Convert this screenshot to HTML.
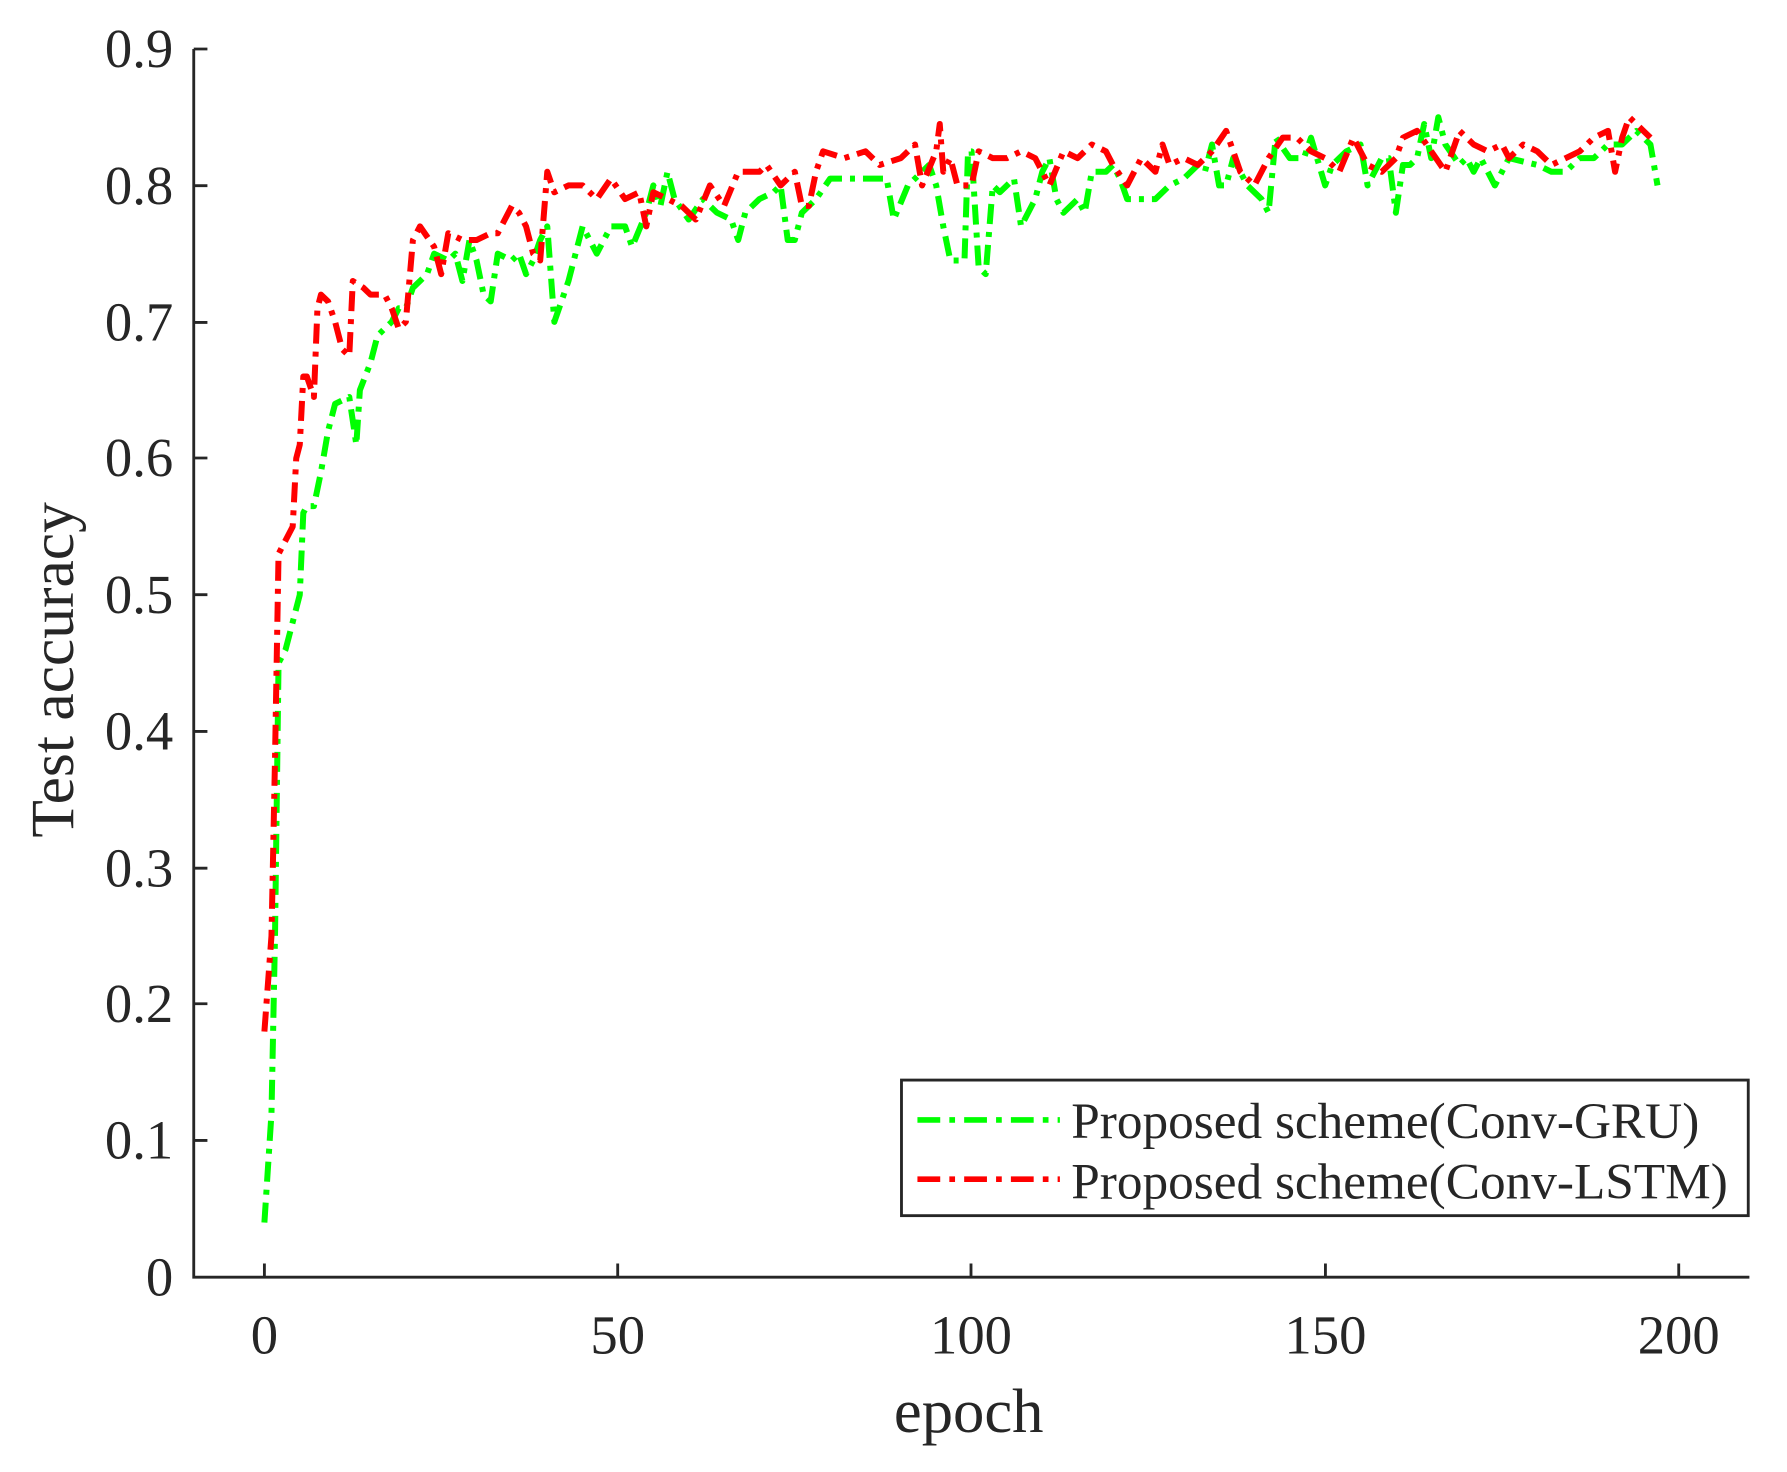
<!DOCTYPE html>
<html><head><meta charset="utf-8"><style>html,body{margin:0;padding:0;background:#fff}svg{display:block}</style></head>
<body>
<svg width="1787" height="1472" viewBox="0 0 1568 1292" preserveAspectRatio="none" xmlns="http://www.w3.org/2000/svg" font-family="Liberation Serif, serif" fill="#262626">
<rect width="1568" height="1292" fill="#fff"/>
<g stroke="#262626" stroke-width="2.5" fill="none">
<path d="M170,43 V1121 H1535"/>
<path d="M170,43h12M170,163h12M170,283h12M170,402h12M170,522h12M170,642h12M170,762h12M170,881h12M170,1001h12"/>
<path d="M232,1121v-12M542,1121v-12M852,1121v-12M1163,1121v-12M1473,1121v-12"/>
</g>
<g font-size="48" text-anchor="end">
<text x="152" y="59">0.9</text><text x="152" y="179">0.8</text><text x="152" y="299">0.7</text><text x="152" y="418">0.6</text><text x="152" y="538">0.5</text><text x="152" y="658">0.4</text><text x="152" y="778">0.3</text><text x="152" y="897">0.2</text><text x="152" y="1017">0.1</text><text x="152" y="1137">0</text>
</g>
<g font-size="48" text-anchor="middle">
<text x="232" y="1188">0</text><text x="542" y="1188">50</text><text x="852" y="1188">100</text><text x="1163" y="1188">150</text><text x="1473" y="1188">200</text>
<text x="850" y="1257" font-size="55">epoch</text>
<text transform="translate(64,588) rotate(-90)" font-size="54">Test accuracy</text>
</g>
<g transform="translate(232,1121) scale(6.205,-1197.8)" fill="none" stroke-linejoin="round">
<polyline vector-effect="non-scaling-stroke" stroke="#00ff00" stroke-width="6" stroke-dasharray="20 8 5 8" points="0,.04 1,.12 1.5,.25 2,.45 3,.46 4,.48 5,.5 5.5,.56 6,.565 7,.565 8,.59 9,.62 10,.64 12,.645 13,.61 13.5,.65 15,.67 16,.69 18,.70 19,.71 20,.71 21,.725 23,.735 24,.75 26,.745 27,.75 28,.73 29,.76 30,.745 31,.72 32,.715 33,.75 35,.745 36,.75 37,.735 38,.745 39,.76 40,.77 41,.70 43,.73 45,.77 47,.75 49,.77 51,.77 52,.755 54,.78 55,.80 56,.785 57,.81 58,.79 60,.775 62,.79 64,.78 66,.775 67,.76 68,.78 70,.79 72,.795 73,.80 74,.76 75,.76 76,.78 78,.79 80,.805 85,.805 88,.805 89,.775 91,.80 93,.81 94,.815 95,.80 96,.77 97,.745 99,.745 99.5,.825 100,.825 101,.74 102,.735 103,.80 104,.795 105,.80 106,.805 107,.77 109,.79 110,.81 111,.82 112,.79 113,.78 115,.79 116,.78 117,.81 119,.81 120,.815 121,.805 122,.79 124,.79 126,.79 128,.80 130,.805 132,.815 133,.81 134,.83 135,.80 136,.80 137,.82 139,.80 141,.79 142,.78 143,.835 145,.82 147,.82 148,.835 150,.80 151,.815 153,.825 155,.83 156,.80 157,.81 158,.82 159,.82 160,.78 161,.815 162,.815 163,.82 164,.845 165,.82 166,.85 167,.83 169,.815 170,.82 171,.81 172,.82 174,.80 176,.82 180,.815 182,.81 184,.81 186,.82 188,.82 190,.83 192,.83 194,.84 196,.83 197,.80"/>
<polyline vector-effect="non-scaling-stroke" stroke="#ff0000" stroke-width="6" stroke-dasharray="20 8 5 8" points="0,.18 1,.25 1.5,.38 2,.53 3,.54 4,.55 4.5,.60 5,.61 5.5,.66 6,.66 7,.645 7.5,.71 8,.72 9,.715 10,.70 11,.68 12,.675 12.5,.73 14,.725 15,.72 17,.72 18,.71 19,.695 20,.70 21,.76 22,.77 24,.755 25,.735 26,.765 28,.76 30,.76 32,.765 33,.765 35,.785 36,.78 37,.77 38,.75 39,.745 40,.81 41,.795 43,.80 45,.80 47,.79 49,.805 51,.79 53,.795 54,.77 55,.795 57,.79 59,.785 61,.775 63,.80 65,.785 67,.81 70,.81 71,.815 73,.80 75,.81 76,.785 77,.785 78,.81 79,.825 82,.82 85,.825 87,.815 90,.82 92,.83 93,.80 95,.825 95.5,.845 96,.81 97,.82 98,.80 100,.80 101,.825 103,.82 105,.82 107,.825 109,.82 110,.81 111,.80 113,.825 115,.82 117,.83 119,.825 120,.815 122,.80 124,.82 126,.81 127,.83 128,.815 130,.82 132,.815 134,.825 136,.84 138,.81 140,.80 142,.82 144,.835 146,.835 148,.825 150,.82 152,.81 154,.835 156,.815 158,.81 160,.82 161,.835 163,.84 165,.825 167,.81 169,.84 171,.83 173,.825 175,.83 176,.82 178,.83 180,.825 182,.815 184,.82 186,.825 188,.835 190,.84 191,.81 192,.835 193,.85 194,.845 196,.835"/>
</g>
<rect x="791" y="948" width="743" height="119" fill="#fff" stroke="#262626" stroke-width="2.5"/>
<path d="M805,983H930" stroke="#00ff00" stroke-width="5" stroke-dasharray="20 8 5 8"/>
<path d="M805,1035H930" stroke="#ff0000" stroke-width="5" stroke-dasharray="20 8 5 8"/>
<g font-size="45"><text x="940" y="999">Proposed scheme(Conv-GRU)</text><text x="940" y="1052">Proposed scheme(Conv-LSTM)</text></g>
</svg>
</body></html>
